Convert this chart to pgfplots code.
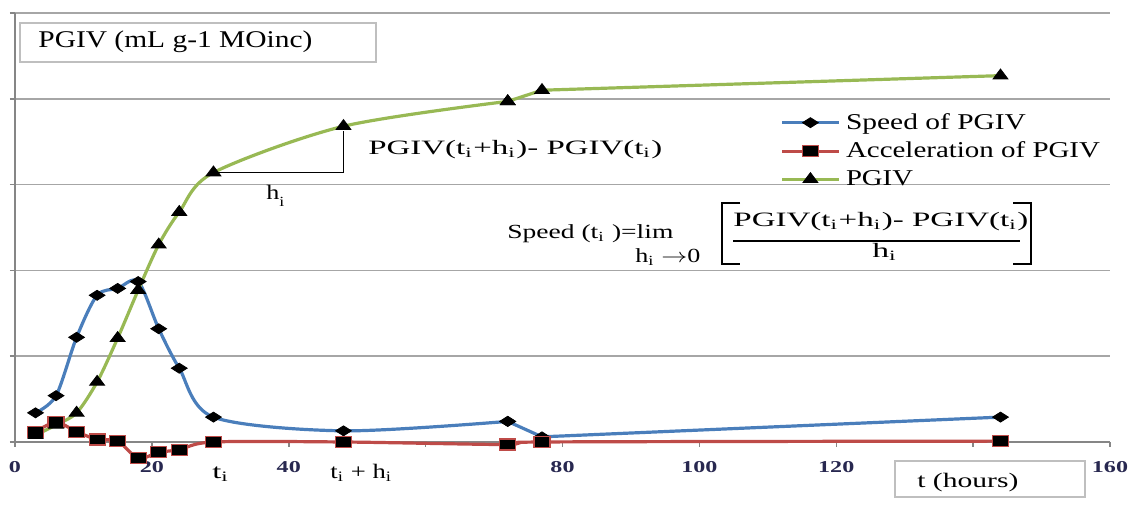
\documentclass[border=0pt]{standalone}
\usepackage{fontspec}
\setmainfont{Liberation Serif}
\usepackage{graphicx}
\usepackage{pgfplots}
\pgfplotsset{compat=1.18}
\usetikzlibrary{arrows.meta}

\definecolor{sblue}{RGB}{74,126,187}
\definecolor{sred}{RGB}{190,75,72}
\definecolor{sgreen}{RGB}{152,185,84}
\definecolor{gridc}{RGB}{166,166,166}
\definecolor{axc}{RGB}{134,134,134}
\definecolor{boxc}{RGB}{191,191,191}
\definecolor{tickc}{RGB}{40,40,80}

\newcommand\fitw[3]{\resizebox{#1}{\height}{\fontsize{#2}{#2}\selectfont #3}}
\newcommand\tl[1]{\scalebox{1.45}[1]{#1}}

\begin{document}
\begin{tikzpicture}
\path[use as bounding box] (0,0) rectangle (565.5pt,259.5pt);
\begin{axis}[
 at={(7.5pt,38.5pt)}, anchor=south west,
 scale only axis, width=547.5pt, height=214.5pt,
 xmin=0, xmax=160, ymin=0, ymax=5,
 clip=false,
 axis x line*=bottom, axis y line*=left,
 x axis line style={-, draw=axc, line width=0.75pt},
 y axis line style={-, draw=axc, line width=0.75pt},
 xtick={0,20,...,160},
 xticklabels={\tl{0},\tl{20},\tl{40},,\tl{80},\tl{100},\tl{120},,\tl{160}},
 ytick={0,1,...,5}, yticklabels={},
 ymajorgrids, major grid style={draw=gridc, line width=0.75pt},
 tick align=outside, major tick length=2.5pt,
 tick style={draw=axc, line width=0.75pt},
 xticklabel style={font=\bfseries\fontsize{8.3}{8.3}\selectfont, text=tickc, yshift=-3.5pt},
 legend style={at={(0.699,0.772)}, anchor=north west, draw=none, fill=none, row sep=2.8pt, column sep=2pt, inner sep=0pt, nodes={inner sep=1pt}},
 legend cell align=left,
 legend image code/.code={\draw[mark repeat=2,mark phase=2,#1] plot coordinates {(0pt,0pt) (14pt,0pt) (28pt,0pt)};},
]
% Speed of PGIV
\addplot[sblue, line width=1.6pt, smooth, mark=diamond*, mark size=2.5pt,
  mark options={fill=black, draw=black, xscale=2.1, line width=0.4pt}]
 coordinates {(3,0.34) (6,0.54) (9,1.22) (12,1.71) (15,1.79) (18,1.87) (21,1.32) (24,0.86) (29,0.29) (48,0.13) (72,0.24)};
\addlegendentry{\fitw{90pt}{11.3}{Speed of PGIV}}
\addplot[sblue, line width=1.6pt, forget plot, mark=diamond*, mark size=2.5pt,
  mark options={fill=black, draw=black, xscale=2.1, line width=0.4pt}]
 coordinates {(72,0.24) (77,0.06) (144,0.29)};
% Acceleration of PGIV
\addplot[sred, line width=1.6pt, smooth, mark=square*, mark size=2.75pt,
  mark options={fill=black, draw=sred, xscale=1.45, line width=0.6pt}]
 coordinates {(3,0.12) (6,0.23) (9,0.12) (12,0.03) (15,0.01) (18,-0.19) (21,-0.12) (24,-0.09) (29,0) (48,0) (72,-0.03) (77,0) (144,0.01)};
\addlegendentry{\fitw{127pt}{11.3}{Acceleration of PGIV}}
% PGIV
\addplot[sgreen, line width=1.6pt, smooth, mark=triangle*, mark size=3.3pt,
  mark options={fill=black, draw=black, xscale=1.3, line width=0.4pt}]
 coordinates {(3,0.08) (6,0.20) (9,0.34) (12,0.70) (15,1.21) (18,1.77) (21,2.30) (24,2.68) (29,3.14) (48,3.68) (72,3.97)};
\addlegendentry{\fitw{33.5pt}{11.3}{PGIV}}
\addplot[sgreen, line width=1.6pt, forget plot, mark=triangle*, mark size=3.3pt,
  mark options={fill=black, draw=black, xscale=1.3, line width=0.4pt}]
 coordinates {(72,3.97) (77,4.10) (144,4.27)};
\draw[black, line width=0.6pt] (axis cs:29,3.14) -- (axis cs:48,3.14) -- (axis cs:48,3.62);
\end{axis}
\begin{scope}[yshift=259.5pt,x=0.5pt,y=-0.5pt]
\draw[boxc, line width=0.75pt, fill=white] (20,23) rectangle (376,62);
\node[anchor=base west, inner sep=0] at (38,48) {\fitw{137pt}{12}{PGIV (mL g-1 MOinc)}};
\draw[boxc, line width=0.75pt, fill=white] (895,461) rectangle (1085,497);
\node[anchor=base west, inner sep=0] at (917,488) {\fitw{50.5pt}{10.3}{t (hours)}};
\node[anchor=base west, inner sep=0] at (212,479) {\fitw{8.5pt}{10.3}{t\textsubscript{i}}};
\node[anchor=base west, inner sep=0] at (330,479) {\fitw{31pt}{10.3}{t\textsubscript{i} + h\textsubscript{i}}};
\node[anchor=base west, inner sep=0] at (266,200) {\fitw{9pt}{10.3}{h\raisebox{-0.7ex}{\fontsize{7}{7}\selectfont i}}};
\node[anchor=base west, inner sep=0] at (368,155) {\fitw{147pt}{10.2}{PGIV(t\textsubscript{i}+h\textsubscript{i})- PGIV(t\textsubscript{i})}};
\node[anchor=base west, inner sep=0] at (507,239) {\fitw{83pt}{10}{Speed (t\textsubscript{i} )=lim}};
\node[anchor=base west, inner sep=0] at (635,263) {\fitw{32.5pt}{10}{h\textsubscript{i} $\rightarrow$0}};
\node[anchor=base west, inner sep=0] at (733,227) {\fitw{147.5pt}{10.2}{PGIV(t\textsubscript{i}+h\textsubscript{i})- PGIV(t\textsubscript{i})}};
\draw[black, line width=0.6pt] (733,241) -- (1020,241);
\node[anchor=base west, inner sep=0] at (872,258) {\fitw{12.5pt}{10.2}{h\textsubscript{i}}};
\draw[black, line width=0.9pt] (740,203) -- (722,203) -- (722,264) -- (740,264);
\draw[black, line width=0.9pt] (1013,203) -- (1031,203) -- (1031,264) -- (1013,264);
\end{scope}
\end{tikzpicture}
\end{document}
